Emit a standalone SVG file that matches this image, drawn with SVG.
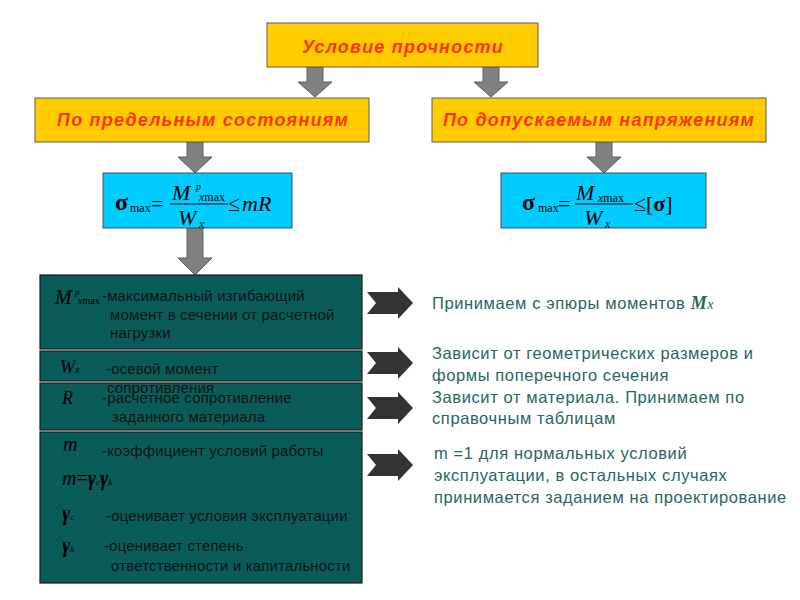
<svg xmlns="http://www.w3.org/2000/svg" width="800" height="600" viewBox="0 0 800 600">
<style>
.yb{fill:#FFCC00;stroke:#5a5a5a;stroke-width:1}
.yt{font-family:"Liberation Sans",Arial,sans-serif;font-weight:bold;font-style:italic;fill:#FF3300;text-anchor:middle;font-size:18px;letter-spacing:1.2px}
.bb{fill:#00CCFF;stroke:#4d4d4d;stroke-width:1}
.tb{fill:#0A5C58;stroke:#1a1a1a;stroke-width:1.2}
.ga{fill:#808080;stroke:#5f5f5f;stroke-width:1}
.da{fill:#333333}
.f{font-family:"Liberation Serif","Times New Roman",serif;fill:#000}
.i{font-style:italic}
.t{font-family:"Liberation Sans",Arial,sans-serif;font-size:15px;letter-spacing:0.15px;fill:#141414}
.r{font-family:"Liberation Sans",Arial,sans-serif;font-size:16.5px;letter-spacing:0.6px;fill:#2B6464}
</style>
<defs>
<path id="dn" d="M-8,0 H8 V15 H17 L0,30 L-17,15 H-8 Z"/>
<path id="ra" d="M0,-11 H31 V-16 L46,0 L31,16 V11 H0 L9,0 Z"/>
</defs>

<g id="connectors">
<use href="#dn" class="ga" x="315" y="67"/>
<use href="#dn" class="ga" x="491" y="67"/>
<path class="ga" d="M187,142 H203 V157 H212 L195,173 L178,157 H187 Z"/>
<path class="ga" d="M596,142 H612 V157 H621 L604,173 L587,157 H596 Z"/>
<path class="ga" d="M187,228 H203 V258 H212 L195,275 L178,258 H187 Z"/>
<use href="#ra" class="da" x="367" y="303"/>
<use href="#ra" class="da" x="367" y="363"/>
<use href="#ra" class="da" x="367" y="408"/>
<use href="#ra" class="da" x="367" y="465"/>
</g>

<g id="node-top">
<rect class="yb" x="267" y="23" width="271" height="44"/>
<text class="yt" x="403" y="53">Условие прочности</text>
</g>

<g id="node-left">
<rect class="yb" x="35" y="98" width="334" height="44"/>
<text class="yt" x="203" y="126">По предельным состояниям</text>
</g>

<g id="node-right">
<rect class="yb" x="432" y="98" width="334" height="44"/>
<text class="yt" x="599" y="126">По допускаемым напряжениям</text>
</g>

<g id="formula-left">
<rect class="bb" x="103" y="173" width="189" height="55"/>
<text class="f" x="115" y="210" font-size="24" font-weight="bold">σ</text>
<text class="f" x="130" y="212" font-size="12">max</text>
<text class="f" x="151" y="211" font-size="22">=</text>
<text class="f i" x="172" y="200" font-size="22">M</text>
<text class="f i" x="196" y="190" font-size="10">p</text>
<text class="f" x="199" y="201" font-size="12"><tspan font-style="italic">x</tspan>max</text>
<line x1="170" y1="204" x2="228" y2="204" stroke="#000" stroke-width="1.2"/>
<text class="f i" x="178" y="225" font-size="22">W</text>
<text class="f i" x="199" y="228" font-size="12">x</text>
<text class="f" x="228" y="211" font-size="22">≤</text>
<text class="f i" x="242" y="211" font-size="22">mR</text>
</g>

<g id="formula-right">
<rect class="bb" x="501" y="173" width="205" height="55"/>
<text class="f" x="522" y="210" font-size="24" font-weight="bold">σ</text>
<text class="f" x="538" y="212" font-size="12">max</text>
<text class="f" x="558" y="211" font-size="22">=</text>
<text class="f i" x="576" y="200" font-size="22">M</text>
<text class="f" x="598" y="202" font-size="12"><tspan font-style="italic">x</tspan>max</text>
<line x1="575" y1="204" x2="633" y2="204" stroke="#000" stroke-width="1.2"/>
<text class="f i" x="584" y="225" font-size="22">W</text>
<text class="f i" x="605" y="228" font-size="12">x</text>
<text class="f" x="634" y="211" font-size="22">≤</text>
<text class="f" x="646" y="211" font-size="22">[<tspan font-weight="bold">σ</tspan>]</text>
</g>

<g id="node-definitions">
<rect class="tb" x="40" y="275" width="322" height="74"/>
<rect class="tb" x="40" y="351" width="322" height="30"/>
<rect class="tb" x="40" y="383" width="322" height="47"/>
<rect class="tb" x="40" y="432" width="322" height="151"/>

<text class="f i" x="55" y="304" font-size="20" fill="#141414">M</text>
<text class="f i" x="75" y="295" font-size="9" fill="#141414">p</text>
<text class="f i" x="78" y="304" font-size="10" fill="#141414">x<tspan font-style="normal">max</tspan></text>
<text class="t" x="102" y="301">-максимальный изгибающий</text>
<text class="t" x="110" y="320">момент в сечении от расчетной</text>
<text class="t" x="110" y="338">нагрузки</text>

<text class="f i" x="60" y="373" font-size="18" fill="#141414">W<tspan font-size="10">x</tspan></text>
<text class="t" x="106" y="374">-осевой момент</text>
<text class="t" x="107" y="393">сопротивления</text>

<text class="f i" x="62" y="404" font-size="18" fill="#141414">R</text>
<text class="t" x="102" y="403">-расчетное сопротивление</text>
<text class="t" x="112" y="422">заданного материала</text>

<text class="f i" x="63" y="451" font-size="20" fill="#141414">m</text>
<text class="t" x="102" y="456">-коэффициент условий работы</text>
<text class="f i" x="62" y="485" font-size="20" fill="#141414">m<tspan font-style="normal">=</tspan><tspan font-weight="bold">γ</tspan><tspan font-size="9">c</tspan><tspan font-weight="bold">γ</tspan><tspan font-size="9">k</tspan></text>
<text class="f i" x="62" y="520" font-size="20" font-weight="bold" fill="#141414">γ<tspan font-size="9" font-weight="normal">c</tspan></text>
<text class="t" x="106" y="521">-оценивает условия эксплуатации</text>
<text class="f i" x="62" y="552" font-size="20" font-weight="bold" fill="#141414">γ<tspan font-size="9" font-weight="normal">k</tspan></text>
<text class="t" x="104" y="551">-оценивает степень</text>
<text class="t" x="111" y="571">ответственности и капитальности</text>
</g>

<g id="notes">
<text class="r" x="432" y="309">Принимаем с эпюры моментов <tspan font-family="Liberation Serif,serif" font-weight="bold" font-style="italic" font-size="18">M</tspan><tspan font-family="Liberation Serif,serif" font-style="italic" font-size="14">x</tspan></text>
<text class="r" x="432" y="359">Зависит от геометрических размеров и</text>
<text class="r" x="432" y="381">формы поперечного сечения</text>
<text class="r" x="432" y="403">Зависит от материала. Принимаем по</text>
<text class="r" x="432" y="424">справочным таблицам</text>
<text class="r" x="434" y="459">m =1 для нормальных условий</text>
<text class="r" x="434" y="481">эксплуатации, в остальных случаях</text>
<text class="r" x="434" y="503">принимается заданием на проектирование</text>
</g>
</svg>
